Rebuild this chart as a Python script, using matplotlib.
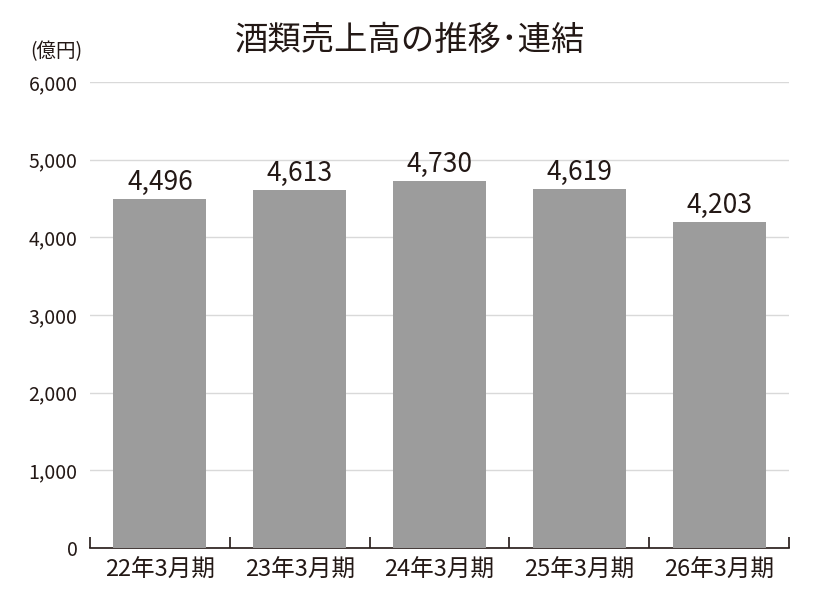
import matplotlib
matplotlib.use("Agg")
import matplotlib.pyplot as plt
import numpy as np

plt.rcParams['font.family'] = ['Noto Sans CJK JP', 'DejaVu Sans']

categories = ["22年3月期", "23年3月期", "24年3月期", "25年3月期", "26年3月期"]
values = [4496, 4613, 4730, 4619, 4203]
yticks = [0, 1000, 2000, 3000, 4000, 5000, 6000]
ytick_labels = ["0", "1,000", "2,000", "3,000", "4,000", "5,000", "6,000"]

fig = plt.figure(figsize=(8.2, 6.04), dpi=100)
ax = fig.add_axes([90/820, 1-548/604, (789-90)/820, (548-82)/604])

x = np.arange(len(categories))
ax.bar(x, values, width=0.665, color="#9c9c9c", zorder=3)
for xi, v in zip(x, values):
    ax.text(xi, v + 40, f"{v:,}", ha="center", va="bottom", fontsize=19, color="#231815")

ax.set_xlim(-0.5, len(categories) - 0.5)
ax.set_ylim(0, 6000)
ax.set_yticks(yticks)
ax.set_yticklabels(ytick_labels, fontsize=14, color="#231815")
ax.tick_params(axis="y", length=0, pad=9)
ax.yaxis.grid(True, color="#d9d9d9", linewidth=1, zorder=0)
ax.set_axisbelow(True)

ax.set_xticks(x)
ax.set_xticklabels(categories, fontsize=17, color="#231815")
ax.tick_params(axis="x", which="major", length=0, pad=8)
ax.set_xticks(np.arange(-0.5, len(categories)), minor=True)
ax.tick_params(axis="x", which="minor", direction="in", length=8, width=1.2, color="#231815")

for s in ["left", "right", "top"]:
    ax.spines[s].set_visible(False)
ax.spines["bottom"].set_color("#231815")
ax.spines["bottom"].set_linewidth(1.2)

fig.text(410/820, 1-40/604, "酒類売上高の推移･連結", ha="center", va="center", fontsize=24, fontweight="normal", color="#231815")
fig.text(30/820, 1-52/604, "(億円)", ha="left", va="center", fontsize=14, color="#231815")

fig.savefig("out.png", dpi=100, facecolor="white")
